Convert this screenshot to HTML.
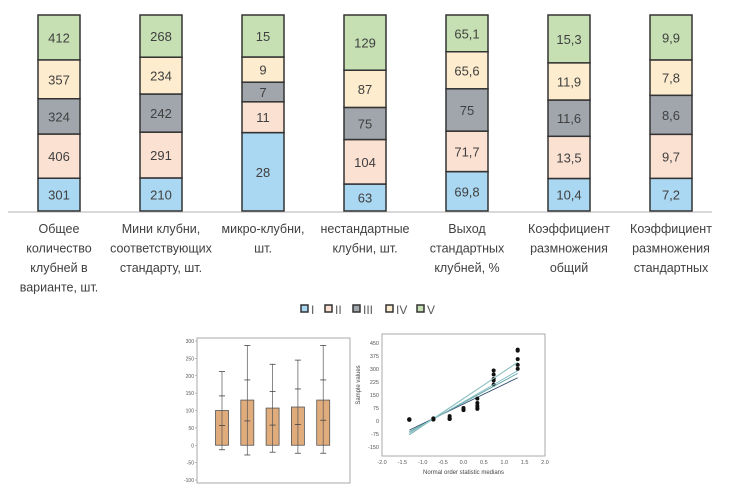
<!DOCTYPE html>
<html><head><meta charset="utf-8"><style>
body{margin:0;background:#fff;width:735px;height:504px;overflow:hidden}
svg{display:block;font-family:"Liberation Sans",sans-serif}
</style></head><body>
<svg id="c" width="735" height="504"></svg>
<script>
const categories=[["Общее","количество","клубней в","варианте, шт."],["Мини клубни,","соответствующих","стандарту, шт."],["микро-клубни,","шт."],["нестандартные","клубни, шт."],["Выход","стандартных","клубней, %"],["Коэффициент","размножения","общий"],["Коэффициент","размножения","стандартных"]];
const seriesNames=["I","II","III","IV","V"];
const sI=[301,210,28,63,69.8,10.4,7.2];
const sII=[406,291,11,104,71.7,13.5,9.7];
const sIII=[324,242,7,75,75,11.6,8.6];
const sIV=[357,234,9,87,65.6,11.9,7.8];
const sV=[412,268,15,129,65.1,15.3,9.9];
const labels=[["301","210","28","63","69,8","10,4","7,2"],["406","291","11","104","71,7","13,5","9,7"],["324","242","7","75","75","11,6","8,6"],["357","234","9","87","65,6","11,9","7,8"],["412","268","15","129","65,1","15,3","9,9"]];
const boxMean=[100,130,107,110,130];
const boxMid=[57,70,58,60,72];
const boxUpper=[142,188,155,162,188];
const boxMax=[212,287,233,245,287];
const boxMin=[-13,-28,-20,-23,-23];
const boxTicks=[300,250,200,150,100,50,0,-50,-100];
const qqMedians=[-1.33,-0.74,-0.34,0,0.34,0.74,1.33];
const qqYTicks=[450,375,300,225,150,75,0,-75,-150];
const qqXTicks=[-2,-1.5,-1,-0.5,0,0.5,1,1.5,2];

const NS="http://www.w3.org/2000/svg";
const svg=document.getElementById('c');
function mk(t,a,p){const e=document.createElementNS(NS,t);for(const k in a)e.setAttribute(k,a[k]);(p||svg).appendChild(e);return e;}
const series=[sI,sII,sIII,sIV,sV];
const colors=["#aad7f1","#fbe1d2","#a1a6ad","#fdeccd","#c6e0b3"];
const mTop=15,mBot=211,H=mBot-mTop;
const bx=i=>38+i*102,bw=42;
let ax=mk('line',{x1:8,y1:mBot+1,x2:712,y2:mBot+1,stroke:'#d9d9d9','stroke-width':2});


categories.forEach((cat,i)=>{
  let tot=0;series.forEach(s=>tot+=s[i]);
  let y=mBot;
  series.forEach((s,k)=>{
    const h=s[i]/tot*H;
    const r=mk('rect',{x:bx(i),y:y-h,width:bw,height:h,fill:colors[k],stroke:'#333','stroke-width':1.5});
    
    
    const t=mk('text',{x:bx(i)+bw/2,y:y-h/2+5,'text-anchor':'middle','font-size':13,fill:'#404040'});
    t.textContent=labels[k][i];
    
    
    y-=h;
  });
  cat.forEach((ln,j)=>{
    const t=mk('text',{x:bx(i)+bw/2,y:233+j*19.5,'text-anchor':'middle','font-size':12.5,fill:'#404040'});
    t.textContent=ln;
    
    
  });
});
const lgx=[301,325,353,386,417];
seriesNames.forEach((n,k)=>{
  const r=mk('rect',{x:lgx[k],y:305,width:7,height:7,fill:colors[k],stroke:'#333','stroke-width':1.5});
  
  
  const t=mk('text',{x:lgx[k]+10,y:314,'font-size':12,fill:'#595959'});
  t.textContent=n;
  
  
});
const bL=197,bR=350,bT=338,bB=483;
const by=v=>341+(300-v)/400*139;
let fr=mk('rect',{x:bL,y:bT,width:bR-bL,height:bB-bT,fill:'none',stroke:'#aaa','stroke-width':1});


boxTicks.forEach(v=>{
  const t=mk('text',{x:bL-3,y:by(v)+2,'text-anchor':'end','font-size':5,fill:'#555'});
  t.textContent=v;
  
  
  mk('line',{x1:bL-2,x2:bL,y1:by(v),y2:by(v),stroke:'#888','stroke-width':0.5});
});
boxMean.forEach((m,i)=>{
  const cx=222+i*25.3;
  const r=mk('rect',{x:cx-6.5,y:by(m),width:13,height:by(0)-by(m),fill:'#e0ac7c',stroke:'#555','stroke-width':0.8});
  
  
  mk('line',{x1:cx,x2:cx,y1:by(boxMax[i]),y2:by(boxMin[i]),stroke:'#555','stroke-width':0.7});
  [boxMax[i],boxUpper[i],boxMid[i],boxMin[i]].forEach(v=>mk('line',{x1:cx-3,x2:cx+3,y1:by(v),y2:by(v),stroke:'#444','stroke-width':0.8}));
});
const qL=382,qR=545,qT=334,qB=456;
const qx=v=>qL+(v+2)/4*(qR-qL);
const qy=v=>421-v/75*13;
let fr2=mk('rect',{x:qL,y:qT,width:qR-qL,height:qB-qT,fill:'none',stroke:'#aaa','stroke-width':1});


qqYTicks.forEach(v=>{
  const t=mk('text',{x:qL-3,y:qy(v)+2,'text-anchor':'end','font-size':5.5,fill:'#555'});
  t.textContent=v;
  
  
});
qqXTicks.forEach(v=>{
  const t=mk('text',{x:qx(v),y:qB+8,'text-anchor':'middle','font-size':5.5,fill:'#555'});
  t.textContent=v.toFixed(1);
  
  
});
let xt=mk('text',{x:(qL+qR)/2,y:qB+18,'text-anchor':'middle','font-size':6,fill:'#444'});
xt.textContent='Normal order statistic medians';


let yt=mk('text',{x:0,y:0,'text-anchor':'middle','font-size':6,fill:'#444',transform:`translate(360 ${(qT+qB)/2-10}) rotate(-90)`});
yt.textContent='Sample values';


const lineCols=["#2f4f6f","#3a7a7a","#5aa0a0","#7fb8c0","#9cc"];
series.forEach((s,k)=>{
  const v=[...s].sort((a,b)=>a-b);
  const n=v.length;let mx=0,my=0;qqMedians.forEach((x,i)=>{mx+=x;my+=v[i];});mx/=n;my/=n;
  let sxy=0,sxx=0;qqMedians.forEach((x,i)=>{sxy+=(x-mx)*(v[i]-my);sxx+=(x-mx)*(x-mx);});
  const b=sxy/sxx,a=my-b*mx;
  const l=mk('line',{x1:qx(-1.33),y1:qy(a+b*-1.33),x2:qx(1.33),y2:qy(a+b*1.33),stroke:lineCols[k],'stroke-width':0.9});
  
  
  v.forEach((y,i)=>{
    const c=mk('circle',{cx:qx(qqMedians[i]),cy:qy(y),r:2,fill:'#111'});
    
    
  });
});
</script>
</body></html>
